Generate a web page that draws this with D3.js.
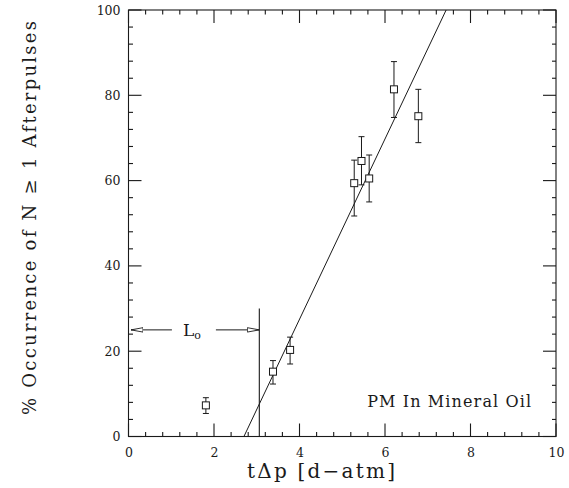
<!DOCTYPE html>
<html>
<head>
<meta charset="utf-8">
<script src="https://cdn.jsdelivr.net/npm/d3@7"></script>
<style>
  html, body { margin: 0; padding: 0; background: #fff; }
  svg { display: block; }
  text { font-family: "DejaVu Serif", "Liberation Serif", serif; fill: #1a1a1a; }
</style>
</head>
<body>
<svg id="chart" width="569" height="488"></svg>
<script>
// ---- data ----
const tDeltaP    = [1.81, 3.38, 3.78, 5.28, 5.45, 5.63, 6.21, 6.78];
const occurrence = [7.3, 15.2, 20.3, 59.4, 64.6, 60.5, 81.4, 75.1];
const errLow     = [5.4, 12.3, 17.0, 51.7, 59.0, 55.0, 74.8, 68.9];
const errHigh    = [9.1, 17.8, 23.3, 64.8, 70.3, 66.0, 87.9, 81.4];
const fitX       = [2.70, 7.43];
const fitY       = [0, 100];
const L0Value    = 3.06;
const L0ArrowY   = 25;
const L0LineTop  = 30;
const xMajorTicks = [0, 2, 4, 6, 8, 10];
const yMajorTicks = [0, 20, 40, 60, 80, 100];
const xMinorTicks = [0.4, 0.8, 1.2, 1.6, 2.4, 2.8, 3.2, 3.6, 4.4, 4.8, 5.2, 5.6, 6.4, 6.8, 7.2, 7.6, 8.4, 8.8, 9.2, 9.6];
const yMinorTicks = [4, 8, 12, 16, 24, 28, 32, 36, 44, 48, 52, 56, 64, 68, 72, 76, 84, 88, 92, 96];
const xTitle = "t\u0394p [d\u2212atm]";
const yTitle = "% Occurrence of N \u2265 1  Afterpulses";
const legendText = "PM In Mineral Oil";

// ---- layout ----
const svg = d3.select("#chart");
const x = d3.scaleLinear().domain([0, 10]).range([128.5, 556]);
const y = d3.scaleLinear().domain([0, 100]).range([436.5, 10]);
const ink = "#1a1a1a";

// frame
svg.append("rect")
  .attr("x", x(0)).attr("y", y(100))
  .attr("width", x(10) - x(0)).attr("height", y(0) - y(100))
  .attr("fill", "none").attr("stroke", ink).attr("stroke-width", 1.1);

// tick marks as thin filled rectangles
const tickW = 1.1;
const tk = svg.append("g").attr("fill", ink);
function xTicks(vals, len, atTop) {
  tk.selectAll(null).data(vals).join("rect")
    .attr("x", d => x(d) - tickW / 2).attr("width", tickW)
    .attr("y", atTop ? y(100) : y(0) - len).attr("height", len);
}
function yTicks(vals, len, atRight) {
  tk.selectAll(null).data(vals).join("rect")
    .attr("y", d => y(d) - tickW / 2).attr("height", tickW)
    .attr("x", atRight ? x(10) - len : x(0)).attr("width", len);
}
xTicks(xMinorTicks, 4.5, false);
xTicks(xMajorTicks, 13, false);
xTicks(xMinorTicks, 4.5, true);
xTicks(xMajorTicks, 13, true);
yTicks(yMinorTicks, 4.5, false);
yTicks(yMajorTicks, 13, false);
yTicks(yMinorTicks, 4, true);
yTicks(yMajorTicks, 13, true);

// tick labels via axes
function styleAxis(g) {
  g.select(".domain").remove();
  g.selectAll(".tick line").remove();
  g.selectAll("text").attr("font-size", 12.5).attr("fill", ink)
    .style("font-family", '"DejaVu Serif", serif');
}
svg.append("g").attr("transform", `translate(0,${y(0)})`)
  .call(d3.axisBottom(x).tickValues(xMajorTicks).tickSize(0).tickPadding(12).tickFormat(d3.format("d")))
  .call(styleAxis);
svg.append("g").attr("transform", `translate(${x(0)},0)`)
  .call(d3.axisLeft(y).tickValues(yMajorTicks).tickSize(0).tickPadding(8).tickFormat(d3.format("d")))
  .call(styleAxis);

// fit line
const fitData = fitX.map((v, i) => [v, fitY[i]]);
svg.append("path")
  .datum(fitData)
  .attr("d", d3.line().x(d => x(d[0])).y(d => y(d[1])))
  .attr("fill", "none").attr("stroke", ink).attr("stroke-width", 1);

// L0 annotation
svg.append("line")
  .attr("x1", x(L0Value)).attr("x2", x(L0Value))
  .attr("y1", y(0)).attr("y2", y(L0LineTop))
  .attr("stroke", ink).attr("stroke-width", 1.1);

const defs = svg.append("defs");
defs.append("marker").attr("id", "openArrow")
  .attr("viewBox", "0 0 12 6").attr("refX", 12).attr("refY", 3)
  .attr("markerWidth", 12).attr("markerHeight", 6)
  .attr("markerUnits", "userSpaceOnUse").attr("orient", "auto")
  .append("path").attr("d", "M0,0.8 L12,3 L0,5.2 Z")
  .attr("fill", "#fff").attr("stroke", ink).attr("stroke-width", 0.9);

const arrowY = y(L0ArrowY);
const labelX = x(L0Value / 2);
svg.append("line")
  .attr("x1", labelX - 22).attr("x2", x(0) + 2.5)
  .attr("y1", arrowY).attr("y2", arrowY)
  .attr("stroke", ink).attr("stroke-width", 1)
  .attr("marker-end", "url(#openArrow)");
svg.append("line")
  .attr("x1", labelX + 22).attr("x2", x(L0Value))
  .attr("y1", arrowY).attr("y2", arrowY)
  .attr("stroke", ink).attr("stroke-width", 1)
  .attr("marker-end", "url(#openArrow)");
const lt = svg.append("text")
  .attr("x", labelX - 2).attr("y", arrowY + 6)
  .attr("text-anchor", "middle").attr("font-size", 17);
lt.append("tspan").text("L");
lt.append("tspan").attr("dy", 3).attr("font-size", 11).text("o");

// error bars
const pts = tDeltaP.map((v, i) => ({x: v, y: occurrence[i], lo: errLow[i], hi: errHigh[i]}));
const eb = svg.append("g").attr("stroke", ink).attr("stroke-width", 1);
eb.selectAll("line.v").data(pts).join("line").attr("class", "v")
  .attr("x1", d => x(d.x)).attr("x2", d => x(d.x))
  .attr("y1", d => y(d.lo)).attr("y2", d => y(d.hi));
eb.selectAll("line.t").data(pts).join("line").attr("class", "t")
  .attr("x1", d => x(d.x) - 3).attr("x2", d => x(d.x) + 3)
  .attr("y1", d => y(d.hi)).attr("y2", d => y(d.hi));
eb.selectAll("line.b").data(pts).join("line").attr("class", "b")
  .attr("x1", d => x(d.x) - 3).attr("x2", d => x(d.x) + 3)
  .attr("y1", d => y(d.lo)).attr("y2", d => y(d.lo));

// square markers
svg.append("g").selectAll("rect").data(pts).join("rect")
  .attr("x", d => x(d.x) - 3.5).attr("y", d => y(d.y) - 3.5)
  .attr("width", 7).attr("height", 7)
  .attr("fill", "#fff").attr("stroke", ink).attr("stroke-width", 1);

// legend text
svg.append("text")
  .attr("x", x(7.5)).attr("y", y(6.8))
  .attr("text-anchor", "middle").attr("font-size", 16)
  .attr("textLength", 164).attr("lengthAdjust", "spacing")
  .text(legendText);

// axis titles
svg.append("text")
  .attr("x", 321).attr("y", 478)
  .attr("text-anchor", "middle").attr("font-size", 20)
  .attr("textLength", 148).attr("lengthAdjust", "spacing")
  .text(xTitle);

svg.append("text")
  .attr("transform", `translate(36, 218) rotate(-90)`)
  .attr("text-anchor", "middle").attr("font-size", 18)
  .attr("textLength", 394).attr("lengthAdjust", "spacing")
  .text(yTitle);
</script>
</body>
</html>
